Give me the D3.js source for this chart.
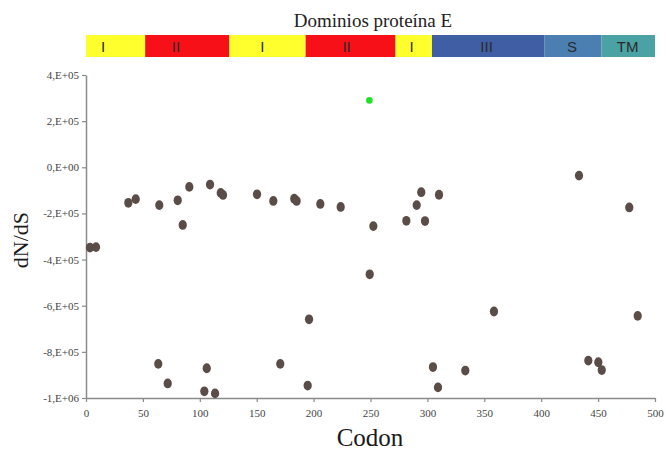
<!DOCTYPE html>
<html><head><meta charset="utf-8">
<script src="https://cdn.jsdelivr.net/npm/d3@7"></script>
<style>body{margin:0;background:#fff}svg{display:block}</style>
</head><body>
<svg id="c" width="666" height="452"></svg>
<script>
// ---- data ----
const codon = [3.5, 8.8, 37.2, 43.7, 64.4, 63.5, 71.8, 80.6, 85.0, 90.8, 104.0, 106.1, 109.0, 113.4, 118.4, 120.4, 150.3, 164.6, 170.7, 183.0, 185.1, 194.8, 196.0, 205.9, 223.8, 249.3, 252.5, 281.5, 290.6, 294.6, 297.9, 304.9, 309.3, 310.2, 333.3, 358.5, 433.2, 441.4, 450.2, 453.2, 477.4, 484.8];
const dnds  = [-3.48e5, -3.46e5, -1.54e5, -1.38e5, -1.64e5, -8.52e5, -9.37e5, -1.43e5, -2.50e5, -0.85e5, -9.71e5, -8.71e5, -0.75e5, -9.80e5, -1.11e5, -1.20e5, -1.17e5, -1.46e5, -8.52e5, -1.36e5, -1.46e5, -9.46e5, -6.59e5, -1.59e5, -1.72e5, -4.64e5, -2.55e5, -2.32e5, -1.64e5, -1.08e5, -2.33e5, -8.66e5, -9.54e5, -1.19e5, -8.81e5, -6.25e5, -0.36e5, -8.38e5, -8.45e5, -8.79e5, -1.74e5, -6.44e5];
const greenCodon = [249.0];
const greenDnds = [2.9e5];

const domainNames = ["I", "II", "I", "II", "I", "III", "S", "TM"];
const domainStart = [0, 52, 126, 193, 272, 304, 403, 453];
const domainEnd   = [52, 126, 193, 272, 304, 403, 453, 500];
const domainLabelAt = [15, 79, 155, 229, 286, 352, 427, 476];
const domainColors = ["#ffff2e", "#f81018", "#ffff2e", "#f81018", "#ffff2e", "#3f5ea3", "#4b7fb2", "#4aa2a4"];

const xTicks = [0, 50, 100, 150, 200, 250, 300, 350, 400, 450, 500];
const yTicks = [4e5, 2e5, 0, -2e5, -4e5, -6e5, -8e5, -1e6];
const yTickLabels = ["4,E+05", "2,E+05", "0,E+00", "-2,E+05", "-4,E+05", "-6,E+05", "-8,E+05", "-1,E+06"];

// ---- drawing ----
const svg = d3.select("#c");
const x = d3.scaleLinear().domain([0, 500]).range([86, 655]);
const y = d3.scaleLinear().domain([-1e6, 4e5]).range([398, 75]);
const serif = "Liberation Serif, Times New Roman, serif";
const sans = "Liberation Sans, Arial, sans-serif";

// title
svg.append("text").attr("x", 373).attr("y", 27).attr("text-anchor", "middle")
  .style("font-family", serif).attr("font-size", 19).attr("fill", "#222")
  .text("Dominios proteína E");

// domain bar
const dom = domainNames.map((n, i) => ({n, s: domainStart[i], e: domainEnd[i], l: domainLabelAt[i], c: domainColors[i]}));
svg.selectAll("rect.dom").data(dom).enter().append("rect")
  .attr("x", d => x(d.s)).attr("width", d => x(d.e) - x(d.s))
  .attr("y", 35).attr("height", 22).attr("fill", d => d.c);
svg.selectAll("text.dom").data(dom).enter().append("text")
  .attr("x", d => x(d.l)).attr("y", 52).attr("text-anchor", "middle")
  .style("font-family", sans).attr("font-size", 15).attr("fill", "#2a2a2a")
  .text(d => d.n);

// axes
const xAxis = d3.axisBottom(x).tickValues(xTicks).tickSize(4).tickSizeOuter(0);
const gx = svg.append("g").attr("transform", "translate(0,398)").call(xAxis);
gx.select(".domain").attr("stroke", "#8a8a8a").attr("stroke-width", 1.5);
gx.selectAll(".tick line").attr("stroke", "#8a8a8a").attr("stroke-width", 1.2);
gx.selectAll(".tick text").style("font-family", serif).attr("font-size", 11).attr("fill", "#444").attr("y", 9).attr("dy", "0.95em");

const yAxis = d3.axisLeft(y).tickValues(yTicks).tickFormat((d, i) => yTickLabels[i]).tickSize(4).tickSizeOuter(0);
const gy = svg.append("g").attr("transform", "translate(86,0)").call(yAxis);
gy.select(".domain").attr("stroke", "#8a8a8a").attr("stroke-width", 1.5);
gy.selectAll(".tick line").attr("stroke", "#8a8a8a").attr("stroke-width", 1.2);
gy.selectAll(".tick text").style("font-family", serif).attr("font-size", 11).attr("fill", "#444").attr("x", -7);

// axis titles
svg.append("text").attr("transform", "translate(28,240) rotate(-90)").attr("text-anchor", "middle")
  .style("font-family", serif).attr("font-size", 22).attr("fill", "#1a1a1a").text("dN/dS");
svg.append("text").attr("x", 370).attr("y", 446).attr("text-anchor", "middle")
  .style("font-family", serif).attr("font-size", 25).attr("fill", "#1a1a1a").text("Codon");

// points
const pts = codon.map((c, i) => ({c, v: dnds[i]}));
svg.selectAll("ellipse.p").data(pts).enter().append("ellipse")
  .attr("cx", d => x(d.c)).attr("cy", d => y(d.v)).attr("rx", 4.1).attr("ry", 4.9)
  .attr("fill", "#5a4c46");
const gpts = greenCodon.map((c, i) => ({c, v: greenDnds[i]}));
svg.selectAll("circle.g").data(gpts).enter().append("circle")
  .attr("cx", d => x(d.c)).attr("cy", d => y(d.v)).attr("r", 3.3)
  .attr("fill", "#22e02a");
</script>
</body></html>
